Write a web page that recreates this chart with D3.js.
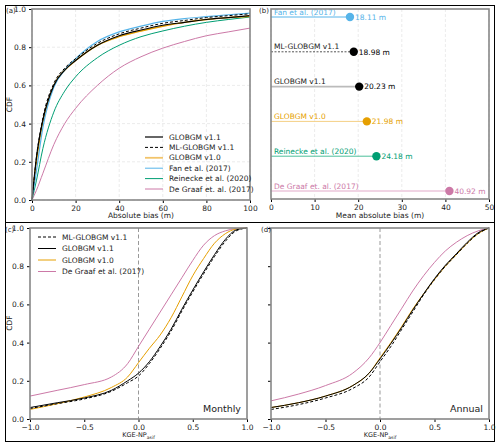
<!DOCTYPE html>
<html><head><meta charset="utf-8">
<script src="https://cdn.jsdelivr.net/npm/d3@7"></script>
<style>body{margin:0;background:#fff}text{font-family:"DejaVu Sans",sans-serif}</style>
</head><body><div id="chart"></div>
<script>
// panel (a) absolute bias CDFs
const biasX = [0, 2, 5, 10, 15, 20, 30, 40, 50, 60, 70, 80, 90, 100]
const biasV11 = [0, .22, .42, .6, .68, .73, .81, .86, .89, .915, .93, .945, .955, .965]
const biasML = [0, .22, .43, .61, .69, .74, .82, .87, .9, .925, .94, .955, .965, .975]
const biasV10 = [0, .2, .41, .6, .68, .73, .81, .855, .885, .91, .93, .945, .955, .962]
const biasFan = [0, .15, .38, .59, .68, .74, .83, .88, .91, .935, .95, .96, .97, .978]
const biasRei = [0, .1, .27, .46, .57, .645, .745, .81, .855, .885, .91, .93, .945, .958]
const biasDG = [0, .05, .14, .29, .4, .48, .6, .69, .75, .795, .83, .86, .88, .9]

// panel (b) mean absolute bias
const maeNames = ["Fan et al. (2017)", "ML-GLOBGM v1.1", "GLOBGM v1.1", "GLOBGM v1.0", "Reinecke et al. (2020)", "De Graaf et. al. (2017)"]
const maeValues = [18.11, 18.98, 20.23, 21.98, 24.18, 40.92]

// panels (c)/(d) KGE-NP CDFs
const kgeX = [-1, -.75, -.5, -.25, -.1, 0, .1, .2, .3, .4, .5, .6, .7, .8, .9, 1]
const monML = [.055, .08, .105, .145, .19, .225, .29, .37, .46, .565, .665, .76, .85, .93, .985, 1]
const monV11 = [.06, .085, .11, .15, .2, .24, .3, .38, .47, .575, .675, .77, .86, .94, .99, 1]
const monV10 = [.05, .08, .115, .165, .22, .295, .37, .44, .53, .64, .75, .84, .92, .97, .995, 1]
const monDG = [.12, .15, .18, .22, .29, .38, .47, .56, .65, .74, .83, .91, .96, .985, .997, 1]
const annML = [.05, .075, .11, .16, .22, .3, .38, .47, .56, .65, .73, .8, .86, .92, .97, 1]
const annV11 = [.06, .085, .12, .175, .24, .315, .395, .48, .57, .655, .735, .805, .865, .925, .975, 1]
const annV10 = [.06, .085, .12, .175, .24, .32, .4, .485, .575, .655, .73, .8, .86, .92, .97, 1]
const annDG = [.095, .13, .175, .24, .32, .40, .49, .58, .67, .75, .82, .88, .925, .96, .985, 1]

const C = {v11: "#000", ml: "#000", v10: "#e69f00", fan: "#56b4e9", rei: "#009e73", dg: "#cc79a7"}

const svg = d3.select("#chart").append("svg").attr("width", 500).attr("height", 447)
svg.append("rect").attr("x", 5.5).attr("y", 5.5).attr("width", 489).attr("height", 217).attr("fill", "none").attr("stroke", "#000")
svg.append("rect").attr("x", 5.5).attr("y", 222.5).attr("width", 489).attr("height", 219).attr("fill", "none").attr("stroke", "#000")

function panel(x0, x1, y0, y1, xd, yd, xt, yt, opts) {
    const x = d3.scaleLinear().domain(xd).range([x0, x1])
    const y = d3.scaleLinear().domain(yd).range([y1, y0])
    const g = svg.append("g")
    if (opts.grid) {
        g.selectAll(".gx").data(xt).enter().append("line")
            .attr("x1", d => x(d)).attr("x2", d => x(d)).attr("y1", y0).attr("y2", y1)
            .attr("stroke", "#ddd").attr("stroke-width", .6).attr("stroke-dasharray", "3,2")
        if (yt) g.selectAll(".gy").data(yt).enter().append("line")
            .attr("y1", d => y(d)).attr("y2", d => y(d)).attr("x1", x0).attr("x2", x1)
            .attr("stroke", "#ddd").attr("stroke-width", .6).attr("stroke-dasharray", "3,2")
    }
    const xa = g.append("g").attr("transform", `translate(0,${y1})`)
        .call(d3.axisBottom(x).tickValues(xt).tickSize(3).tickFormat(opts.xf || (d => d3.format(".1f")(d).replace("-", "\u2212"))))
    xa.selectAll("text").attr("font-size", 7.5).attr("fill", "#222")
    const ya = g.append("g").attr("transform", `translate(${x0},0)`)
        .call(d3.axisLeft(y).tickValues(yt || []).tickSize(3).tickFormat(opts.noYLab ? "" : d3.format(".1f")))
    ya.selectAll("text").attr("font-size", 7.5).attr("fill", "#222")
    g.selectAll(".domain").remove()
    return {x, y, g, box: () => svg.append("rect").attr("x", x0).attr("y", y0).attr("width", x1 - x0).attr("height", y1 - y0)
        .attr("fill", "none").attr("stroke", "#888").attr("stroke-width", 1.6)}
}

function curve(p, xs, ys, color, dash, w) {
    p.g.append("path").datum(xs.map((d, i) => [d, ys[i]]))
        .attr("d", d3.line().x(d => p.x(d[0])).y(d => p.y(d[1])).curve(d3.curveMonotoneX))
        .attr("fill", "none").attr("stroke", color).attr("stroke-width", w || 1)
        .attr("stroke-dasharray", dash ? "3,2" : null)
}

function legend(items, lx, ly, dy) {
    items.forEach((it, i) => {
        const yy = ly + i * dy
        svg.append("line").attr("x1", lx).attr("x2", lx + 18).attr("y1", yy).attr("y2", yy)
            .attr("stroke", it[1]).attr("stroke-width", it[3] || 1).attr("stroke-dasharray", it[2] ? "3,2" : null)
        svg.append("text").attr("x", lx + 24).attr("y", yy + 2.5).attr("font-size", 7.5).attr("fill", "#222").text(it[0])
    })
}

const yt = [0, .2, .4, .6, .8, 1]

// (a)
const pa = panel(32, 250, 9, 200, [0, 100], [0, 1], [0, 20, 40, 60, 80, 100], yt, {grid: true, xf: d3.format("d")})
curve(pa, biasX, biasDG, C.dg)
curve(pa, biasX, biasRei, C.rei)
curve(pa, biasX, biasV10, C.v10, false, 1.4)
curve(pa, biasX, biasFan, C.fan, false, 1.2)
curve(pa, biasX, biasV11, C.v11, false, 1.2)
curve(pa, biasX, biasML, C.ml, true, 1)
pa.box()
legend([["GLOBGM v1.1", "#000", false, 1.2], ["ML-GLOBGM v1.1", "#000", true], ["GLOBGM v1.0", "#f2c46b", false, 1.8],
    ["Fan et al. (2017)", C.fan], ["Reinecke et al. (2020)", C.rei], ["De Graaf et. al. (2017)", C.dg]], 145, 137, 10.4)
svg.append("text").attr("x", 141).attr("y", 218).attr("text-anchor", "middle").attr("font-size", 7.5).attr("fill", "#222").text("Absolute bias (m)")
svg.append("text").attr("transform", "translate(12,104.5) rotate(-90)").attr("text-anchor", "middle").attr("font-size", 7.5).attr("fill", "#222").text("CDF")
svg.append("text").attr("x", 6).attr("y", 13).attr("font-size", 7).attr("fill", "#222").text("(a)")

// (b)
const pb = panel(271, 489, 9, 199, [0, 50], [0, 1], [0, 10, 20, 30, 40, 50], null, {grid: true, xf: d3.format("d")})
const rowY = d3.scalePoint().domain(maeNames).range([17, 191])
const maeColor = [C.fan, "#000", "#000", C.v10, C.rei, C.dg]
const stemColor = [C.fan, "#555", "#bbb", "#f4cf85", "#4cbf9a", "#f0d4e4"]
maeNames.forEach((n, i) => {
    const yy = rowY(n), xv = pb.x(maeValues[i])
    svg.append("line").attr("x1", pb.x(0)).attr("x2", xv).attr("y1", yy).attr("y2", yy)
        .attr("stroke", stemColor[i]).attr("stroke-width", i == 2 || i == 5 ? 1.8 : 1)
        .attr("stroke-dasharray", i == 1 ? "2,1.5" : null)
    svg.append("circle").attr("cx", xv).attr("cy", yy).attr("r", 4.2).attr("fill", maeColor[i])
    svg.append("text").attr("x", xv + 5).attr("y", yy + 2.7).attr("font-size", 7.5).attr("fill", maeColor[i])
        .text(d3.format(".2f")(maeValues[i]) + " m")
    svg.append("text").attr("x", 274).attr("y", yy - 2.5).attr("font-size", 7.5).attr("fill", i == 1 || i == 2 ? "#222" : maeColor[i]).text(n)
})
pb.box()
svg.append("text").attr("x", 380).attr("y", 218).attr("text-anchor", "middle").attr("font-size", 7.5).attr("fill", "#222").text("Mean absolute bias (m)")
svg.append("text").attr("x", 259).attr("y", 13).attr("font-size", 7).attr("fill", "#222").text("(b)")

// (c) and (d)
function kgePanel(x0, x1, ml, v11, v10, dg, name, lab, ylab) {
    const p = panel(x0, x1, 228, 419, [-1, 1], [0, 1], [-1, -.5, 0, .5, 1], yt, {noYLab: !ylab})
    p.g.append("line").attr("x1", p.x(0)).attr("x2", p.x(0)).attr("y1", 228).attr("y2", 419)
        .attr("stroke", "#999").attr("stroke-width", 1).attr("stroke-dasharray", "4,2.5")
    curve(p, kgeX, dg, C.dg)
    curve(p, kgeX, v10, C.v10)
    curve(p, kgeX, v11, "#000")
    curve(p, kgeX, ml, "#000", true)
    p.box()
    svg.append("text").attr("x", x1 - 6).attr("y", 412).attr("text-anchor", "end").attr("font-size", 9.5).attr("fill", "#222").text(name)
    const t = svg.append("text").attr("x", (x0 + x1) / 2).attr("y", 437).attr("text-anchor", "middle").attr("font-size", 6.5).attr("fill", "#222")
    t.append("tspan").text("KGE-NP")
    t.append("tspan").attr("font-size", 4.5).attr("dy", 1.5).text("asif")
    svg.append("text").attr("x", ylab ? 5 : x0 - 10).attr("y", 232).attr("font-size", 7).attr("fill", "#222").text(lab)
}
kgePanel(30, 247, monML, monV11, monV10, monDG, "Monthly", "(c)", true)
kgePanel(271, 489, annML, annV11, annV10, annDG, "Annual", "(d)", false)
svg.append("text").attr("transform", "translate(12,323) rotate(-90)").attr("text-anchor", "middle").attr("font-size", 7.5).attr("fill", "#222").text("CDF")
legend([["ML-GLOBGM v1.1", "#000", true], ["GLOBGM v1.1", "#000"], ["GLOBGM v1.0", C.v10], ["De Graaf et al. (2017)", C.dg]], 38, 237, 11.5)
</script></body></html>
